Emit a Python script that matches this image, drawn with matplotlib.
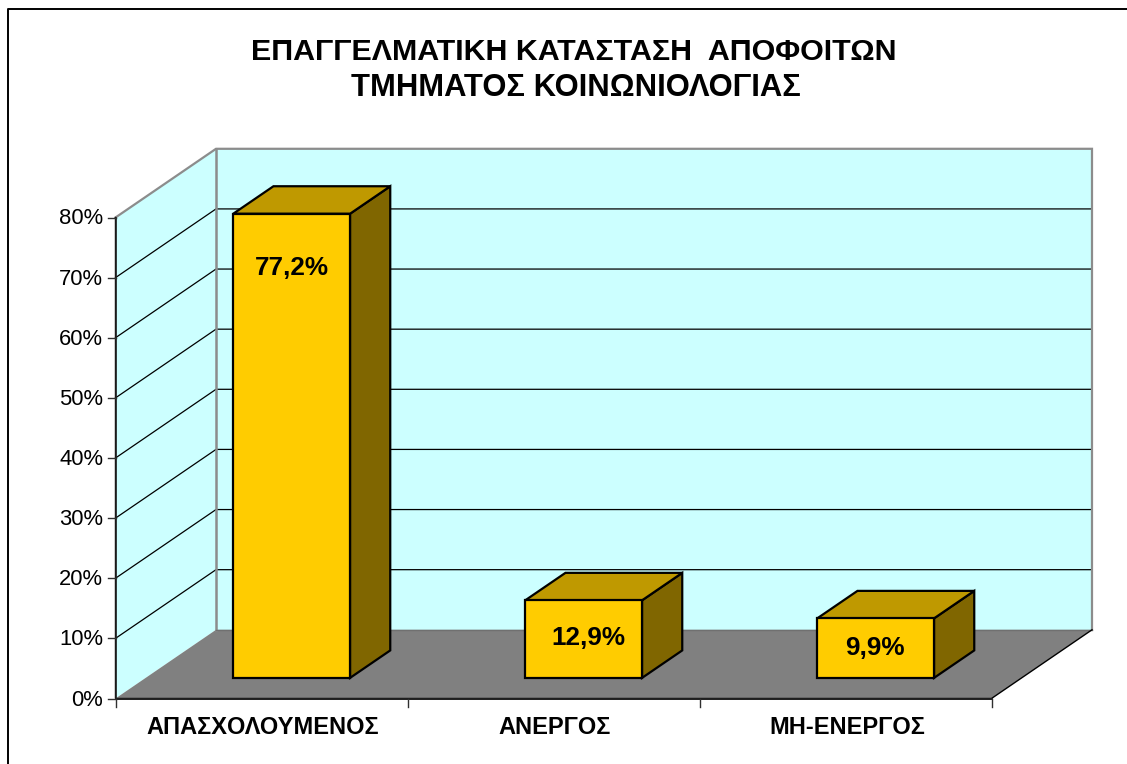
import matplotlib
matplotlib.use("Agg")
import matplotlib.pyplot as plt
from matplotlib.patches import Polygon

plt.rcParams['font.family'] = ['Liberation Sans', 'DejaVu Sans']

title_lines = ["ΕΠΑΓΓΕΛΜΑΤΙΚΗ ΚΑΤΑΣΤΑΣΗ  ΑΠΟΦΟΙΤΩΝ", "ΤΜΗΜΑΤΟΣ ΚΟΙΝΩΝΙΟΛΟΓΙΑΣ"]
categories = ["ΑΠΑΣΧΟΛΟΥΜΕΝΟΣ", "ΑΝΕΡΓΟΣ", "ΜΗ-ΕΝΕΡΓΟΣ"]
values = [77.2, 12.9, 9.9]
value_labels = ["77,2%", "12,9%", "9,9%"]
y_ticks = [0, 10, 20, 30, 40, 50, 60, 70, 80]

W, H = 1127, 764
X0, X1 = 115.5, 991.5      # front floor edge, pixels
Y0, Y80 = 698.5, 217.5     # front wall 0 % and 80 %, pixels
DX, DY = 100.5, -68.7      # full depth offset, pixels
BAR_W = 0.40               # in category widths
D_FRONT, D_BACK = 0.30, 0.70

WALL = '#CCFFFF'
FLOOR = '#808080'
EDGE_GREY = '#8C8C8C'
FRONT = '#FFCC00'
TOP = '#BF9900'
SIDE = '#806600'

fig = plt.figure(figsize=(W / 100, H / 100), dpi=100, facecolor='white')
ax = fig.add_axes([0, 0, 1, 1])
ax.set_xlim(0, W)
ax.set_ylim(H, 0)
ax.axis('off')


def proj(cat, val, depth):
    """category units, percent, depth 0..1 -> pixels"""
    n = len(categories)
    return (X0 + (X1 - X0) * cat / n + DX * depth,
            Y0 + (Y80 - Y0) * val / 80 + DY * depth)


n = len(categories)
top = y_ticks[-1]

# chart border (only left and top visible)
ax.plot([7.5, 7.5, W], [H, 8.5, 8.5], color='black', lw=1.4, zorder=1)

# walls and floor
ax.add_patch(Polygon([proj(0, 0, 1), proj(n, 0, 1), proj(n, top, 1), proj(0, top, 1)],
                     fc=WALL, ec='none', zorder=2))
ax.add_patch(Polygon([proj(0, 0, 0), proj(0, 0, 1), proj(0, top, 1), proj(0, top, 0)],
                     fc=WALL, ec='none', zorder=2))
ax.add_patch(Polygon([proj(0, 0, 0), proj(n, 0, 0), proj(n, 0, 1), proj(0, 0, 1)],
                     fc=FLOOR, ec='none', zorder=2))

# gridlines
for t in y_ticks[1:-1]:
    xs, ys = zip(proj(0, t, 0), proj(0, t, 1), proj(n, t, 1))
    ax.plot(xs, ys, color='black', lw=0.9, zorder=3)

# grey wall outlines
xs, ys = zip(proj(0, top, 0), proj(0, top, 1), proj(n, top, 1), proj(n, 0, 1))
ax.plot(xs, ys, color=EDGE_GREY, lw=1.6, zorder=4, solid_joinstyle='miter')
xs, ys = zip(proj(0, 0, 1), proj(0, top, 1))
ax.plot(xs, ys, color=EDGE_GREY, lw=1.8, zorder=4)
xs, ys = zip(proj(0, 0, 1), proj(n, 0, 1))
ax.plot(xs, ys, color='#707070', lw=1.0, zorder=4)

# floor outer edges and axes
xs, ys = zip(proj(n, 0, 1), proj(n, 0, 0), proj(0, 0, 0), proj(0, top, 0))
ax.plot(xs, ys, color='black', lw=1.0, zorder=5, solid_joinstyle='miter')
xs, ys = zip(proj(0, 0, 0), proj(n, 0, 0))
ax.plot(xs, ys, color='#202020', lw=1.4, zorder=5)
xs, ys = zip(proj(0, 0, 0), proj(0, top, 0))
ax.plot(xs, ys, color='#202020', lw=1.2, zorder=5)

# y ticks
for t in y_ticks:
    x, y = proj(0, t, 0)
    ax.plot([x - 8, x], [y, y], color='#303030', lw=1.0, zorder=5)
    ax.text(x - 12.5, y - 1, f"{t}%", ha='right', va='center_baseline', fontsize=15.8,
            color='black', zorder=6)

# x ticks
for i in range(n + 1):
    x, y = proj(i, 0, 0)
    ax.plot([x, x], [y, y + 8], color='#303030', lw=1.0, zorder=5)

# category labels
for i, c in enumerate(categories):
    x, y = proj(i + 0.5, 0, 0)
    ax.text(x + 1.5, 725, c, ha='center', va='center_baseline', fontsize=17,
            fontweight='bold', color='black', zorder=6)

# bars
label_dx = [0.5, 4.5, -1]
label_dy = [51.5, 35.5, 27.5]
for i, (v, lab) in enumerate(zip(values, value_labels)):
    l = i + 0.5 - BAR_W / 2
    r = i + 0.5 + BAR_W / 2
    front = [proj(l, 0, D_FRONT), proj(r, 0, D_FRONT), proj(r, v, D_FRONT), proj(l, v, D_FRONT)]
    side = [proj(r, 0, D_FRONT), proj(r, 0, D_BACK), proj(r, v, D_BACK), proj(r, v, D_FRONT)]
    topf = [proj(l, v, D_FRONT), proj(r, v, D_FRONT), proj(r, v, D_BACK), proj(l, v, D_BACK)]
    for pts, col in ((side, SIDE), (topf, TOP), (front, FRONT)):
        ax.add_patch(Polygon(pts, fc=col, ec='black', lw=1.6, joinstyle='miter', zorder=7))
    # label inside the front face
    cx, cy = proj(i + 0.5, v, D_FRONT)
    ax.text(cx + label_dx[i], cy + label_dy[i], lab, ha='center', va='center_baseline',
            fontsize=18.8, fontweight='bold', color='black', zorder=8)

# title
ax.text(574, 49, title_lines[0], ha='center', va='center_baseline', fontsize=21.9,
        fontweight='bold', color='black', zorder=6)
ax.text(576, 85, title_lines[1], ha='center', va='center_baseline', fontsize=22.3,
        fontweight='bold', color='black', zorder=6)

fig.savefig('out.png', dpi=100, facecolor='white')
